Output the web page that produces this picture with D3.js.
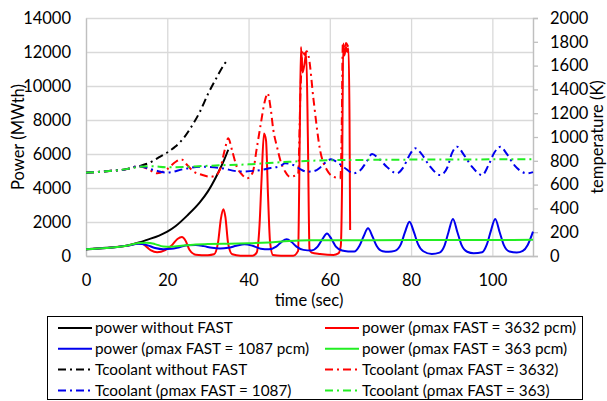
<!DOCTYPE html>
<html>
<head>
<meta charset="utf-8">
<script src="https://cdn.jsdelivr.net/npm/d3@7"></script>
<style>
  body { margin: 0; background: #fff; }
  text { font-family: Lato, "Open Sans", sans-serif; fill: #000; }
</style>
</head>
<body>
<svg id="chart"></svg>
<script>
// Trục thời gian và nhãn
const xTicks = [0, 20, 40, 60, 80, 100];
const powerTicks = [0, 2000, 4000, 6000, 8000, 10000, 12000, 14000];
const tempTicks = [0, 200, 400, 600, 800, 1000, 1200, 1400, 1600, 1800, 2000];

// power without FAST
const tBlackP = [0, 5, 10, 13, 15, 18, 20, 22, 25, 28, 30, 32, 34, 35];
const pBlack = [400, 480, 610, 790, 950, 1200, 1430, 1750, 2400, 3150, 3800, 4650, 5650, 6250];

// Tcoolant without FAST
const tBlackT = [0, 5, 10, 13, 15, 16, 18, 20, 22, 24, 26, 28, 30, 32, 34, 35];
const TBlack = [700, 712, 730, 755, 775, 790, 830, 870, 920, 990, 1090, 1210, 1360, 1490, 1610, 1655];

// power (ρmax FAST = 3632 pcm)
const tRedP = [0, 5, 10, 13, 14, 15, 16, 17.5, 19.5, 21, 22.5, 23.6, 24.5, 25.5, 27, 30, 31.5, 32.5, 33.2, 33.8, 34.3, 35, 36, 38,
  41, 42, 42.7, 43.2, 43.8, 44.3, 44.8, 45.3, 46, 48, 51, 52.2, 52.6, 52.9, 53.3, 53.7, 54.2, 54.6, 55, 55.5, 57.6, 60.9,
  62.1, 62.7, 63, 63.3, 63.6, 64, 64.3, 64.6, 64.85, 65];
const pRed = [400, 470, 600, 740, 700, 520, 330, 220, 350, 600, 1000, 1120, 900, 350, 80, 50, 100, 800, 2200, 2750, 2300, 700, 100, 20,
  20, 200, 1800, 4500, 7200, 6800, 3500, 800, 60, 20, 20, 300, 7000, 12300, 10800, 11200, 11900, 7000, 400, 200, 120, 60,
  150, 600, 4000, 12500, 11800, 12300, 12000, 12200, 8000, 1530];

// Tcoolant (ρmax FAST = 3632)
const tRedT = [0, 5, 10, 13, 15, 17.5, 20, 22, 23.5, 25, 26.5, 28.5, 30.5, 31.8, 33, 34.2, 35, 36, 37.1, 38.5, 39.6, 41, 42,
  42.9, 44, 44.7, 45.4, 46.1, 47, 47.8, 49, 50.2, 52.2, 52.8, 53.3, 53.8, 54.3, 54.8, 56, 57.6, 59.3, 60.9, 62.6,
  62.9, 63.2, 63.6, 64, 64.5, 65];
const TRed = [700, 712, 730, 755, 735, 695, 730, 790, 812, 760, 710, 683, 666, 675, 730, 900, 989, 880, 750, 680, 653, 700, 900,
  1087, 1300, 1367, 1250, 1059, 918, 807, 710, 666, 690, 1400, 1730, 1690, 1720, 1675, 1311, 890, 722, 666, 653,
  1000, 1787, 1740, 1790, 1760, 1730];

// power (ρmax FAST = 1087 pcm)
const tBlueP = [0, 5, 10, 13, 15, 17, 19, 21, 23, 25, 27, 29, 31, 33, 35, 37, 39, 41, 43, 45, 46.8, 48.2, 49.4, 50.6, 51.8, 53.5,
  55.5, 57, 58.2, 59.3, 60.4, 61.5, 63, 64.5, 66, 67.3, 68.3, 69.4, 70.5, 71.5, 73, 74.5, 76, 77.5, 78.5, 79.6, 80.7, 81.7,
  83, 85.1, 87, 88.2, 89.2, 90.3, 91.4, 92.4, 93.8, 95.4, 97.5, 98.6, 99.6, 100.7, 101.8, 102.8, 104.2, 106, 107.5, 108.7, 110];
const pBlue = [400, 470, 600, 720, 640, 470, 400, 420, 520, 630, 650, 580, 480, 440, 480, 600, 690, 600, 430, 390, 550, 850, 980, 820, 550, 360,
  330, 550, 1000, 1330, 1000, 550, 320, 270, 260, 600, 1150, 1630, 1150, 600, 280, 250, 300, 700, 1400, 2020, 1400, 700,
  280, 120, 200, 600, 1400, 2180, 1400, 650, 250, 160, 220, 650, 1450, 2180, 1400, 650, 260, 200, 300, 650, 1430];

// Tcoolant (ρmax FAST = 1087)
const tBlueT = [0, 5, 10, 13, 16.6, 19.9, 24, 28, 33, 38, 42.9, 45.5, 47.8, 49, 51, 52.5, 54.4, 56, 57.5, 58.7, 60.3, 61.5, 63.5,
  65.8, 67.5, 69, 70.4, 72, 74, 76.5, 78, 79.5, 81, 82.5, 84.5, 87.2, 89, 90, 91.3, 93, 95, 97.5, 99, 100.5, 102, 103.5,
  105.5, 108.5, 110];
const TBlue = [700, 712, 730, 755, 723, 700, 730, 750, 740, 710, 722, 740, 755, 779, 765, 735, 708, 712, 740, 780, 812, 795, 745,
  695, 720, 790, 857, 820, 750, 695, 740, 840, 905, 860, 760, 680, 750, 860, 918, 850, 750, 680, 760, 870, 918, 860,
  760, 695, 705];

// power (ρmax FAST = 363 pcm)
const tGreenP = [0, 5, 10, 13, 15, 17, 19, 21, 24, 27, 30, 35, 40, 45, 50, 55, 60, 70, 80, 90, 100, 110];
const pGreen = [400, 470, 600, 760, 780, 700, 560, 540, 620, 680, 700, 720, 750, 800, 880, 920, 930, 930, 940, 940, 945, 950];

// Tcoolant (ρmax FAST = 363)
const tGreenT = [0, 5, 10, 13, 16, 20, 25, 30, 35, 40, 45, 50, 55, 60, 70, 80, 90, 100, 110];
const TGreen = [700, 712, 730, 750, 755, 745, 750, 758, 765, 770, 782, 792, 800, 805, 808, 810, 811, 812, 812];

// Kích thước
const width = 607, height = 401;
const margin = { top: 18, right: 74, bottom: 145, left: 86 };

const svg = d3.select("#chart").attr("width", width).attr("height", height);

const x = d3.scaleLinear().domain([0, 110]).range([margin.left, width - margin.right]);
const yP = d3.scaleLinear().domain([0, 14000]).range([height - margin.bottom, margin.top]);
const yT = d3.scaleLinear().domain([0, 2000]).range([height - margin.bottom, margin.top]);

const gridColor = "#d9d9d9";
const axisColor = "#bfbfbf";
const fontSize = "16.5px";
const fmt = d3.format("d");

// Lưới ngang
svg.append("g")
  .attr("transform", `translate(${margin.left},0)`)
  .call(d3.axisLeft(yP).tickValues(powerTicks).tickSize(-(x(110) - x(0))).tickFormat(""))
  .call(g => g.select(".domain").remove())
  .selectAll("line").attr("stroke", gridColor).attr("stroke-width", 1.3);

// Lưới dọc
svg.append("g")
  .attr("transform", `translate(0,${yP(0)})`)
  .call(d3.axisBottom(x).tickValues(xTicks.concat([110])).tickSize(-(yP(0) - yP(14000))).tickFormat(""))
  .call(g => g.select(".domain").remove())
  .selectAll("line").attr("stroke", gridColor).attr("stroke-width", 1.3);

// Trục trái
svg.append("g")
  .attr("transform", `translate(${margin.left},0)`)
  .call(d3.axisLeft(yP).tickValues(powerTicks).tickSize(0).tickPadding(15).tickFormat(fmt))
  .call(g => g.select(".domain").attr("stroke", axisColor).attr("stroke-width", 1.3))
  .selectAll("text").style("font-size", fontSize);

// Trục dưới
svg.append("g")
  .attr("transform", `translate(0,${yP(0)})`)
  .call(d3.axisBottom(x).tickValues(xTicks).tickSize(0).tickPadding(18).tickFormat(fmt))
  .call(g => g.select(".domain").attr("stroke", axisColor).attr("stroke-width", 1.3))
  .selectAll("text").style("font-size", fontSize);

// Trục phải (nhiệt độ)
svg.append("g")
  .attr("transform", `translate(${x(110)},0)`)
  .call(d3.axisRight(yT).tickValues(tempTicks).tickSize(5).tickPadding(12).tickFormat(fmt))
  .call(g => g.select(".domain").attr("stroke", axisColor).attr("stroke-width", 1.3))
  .call(g => g.selectAll("line").attr("stroke", axisColor).attr("stroke-width", 1.3))
  .selectAll("text").style("font-size", fontSize);

// Nhãn trục
svg.append("text")
  .attr("transform", "rotate(-90)")
  .attr("x", -(yP(7000)))
  .attr("y", 24)
  .attr("text-anchor", "middle")
  .style("font-size", fontSize)
  .text("Power (MWth)");

svg.append("text")
  .attr("transform", "rotate(-90)")
  .attr("x", -(yT(1000)))
  .attr("y", 603)
  .attr("text-anchor", "middle")
  .style("font-size", fontSize)
  .text("temperature (K)");

svg.append("text")
  .attr("x", 309)
  .attr("y", 306)
  .attr("text-anchor", "middle")
  .style("font-size", fontSize)
  .text("time (sec)");

// Các đường
const dashDot = "8,4,2,4";
const series = [
  { t: tBlackP, v: pBlack, y: yP, color: "#000000", dash: null },
  { t: tRedP, v: pRed, y: yP, color: "#ff0000", dash: null },
  { t: tBlueP, v: pBlue, y: yP, color: "#0000ee", dash: null },
  { t: tGreenP, v: pGreen, y: yP, color: "#22ee22", dash: null },
  { t: tBlackT, v: TBlack, y: yT, color: "#000000", dash: dashDot },
  { t: tRedT, v: TRed, y: yT, color: "#ff0000", dash: dashDot },
  { t: tBlueT, v: TBlue, y: yT, color: "#0000ee", dash: dashDot },
  { t: tGreenT, v: TGreen, y: yT, color: "#22ee22", dash: dashDot }
];

series.forEach(s => {
  const pts = s.t.map((t, i) => [t, s.v[i]]);
  const line = d3.line()
    .x(d => x(d[0]))
    .y(d => s.y(d[1]))
    .curve(d3.curveMonotoneX);
  svg.append("path")
    .datum(pts)
    .attr("fill", "none")
    .attr("stroke", s.color)
    .attr("stroke-width", 2)
    .attr("stroke-dasharray", s.dash)
    .attr("d", line);
});

// Chú thích
const legendItems = [
  { label: "power without FAST", color: "#000000", dash: null },
  { label: "power (ρmax FAST = 3632 pcm)", color: "#ff0000", dash: null },
  { label: "power (ρmax FAST = 1087 pcm)", color: "#0000ee", dash: null },
  { label: "power (ρmax FAST = 363 pcm)", color: "#22ee22", dash: null },
  { label: "Tcoolant without FAST", color: "#000000", dash: dashDot },
  { label: "Tcoolant (ρmax FAST = 3632)", color: "#ff0000", dash: dashDot },
  { label: "Tcoolant (ρmax FAST = 1087)", color: "#0000ee", dash: dashDot },
  { label: "Tcoolant (ρmax FAST = 363)", color: "#22ee22", dash: dashDot }
];

const legend = svg.append("g");
legend.append("rect")
  .attr("x", 47.5).attr("y", 316.5)
  .attr("width", 535).attr("height", 83)
  .attr("fill", "#fff").attr("stroke", "#000").attr("stroke-width", 1);

legendItems.forEach((d, i) => {
  const col = i % 2, row = Math.floor(i / 2);
  const lx = col === 0 ? 58 : 325;
  const ly = 328 + row * 20.8;
  legend.append("line")
    .attr("x1", lx).attr("x2", lx + 34)
    .attr("y1", ly).attr("y2", ly)
    .attr("stroke", d.color).attr("stroke-width", 2)
    .attr("stroke-dasharray", d.dash);
  legend.append("text")
    .attr("x", lx + 37).attr("y", ly)
    .attr("dy", "0.35em")
    .style("font-size", "15.3px")
    .text(d.label);
});
</script>
</body>
</html>
